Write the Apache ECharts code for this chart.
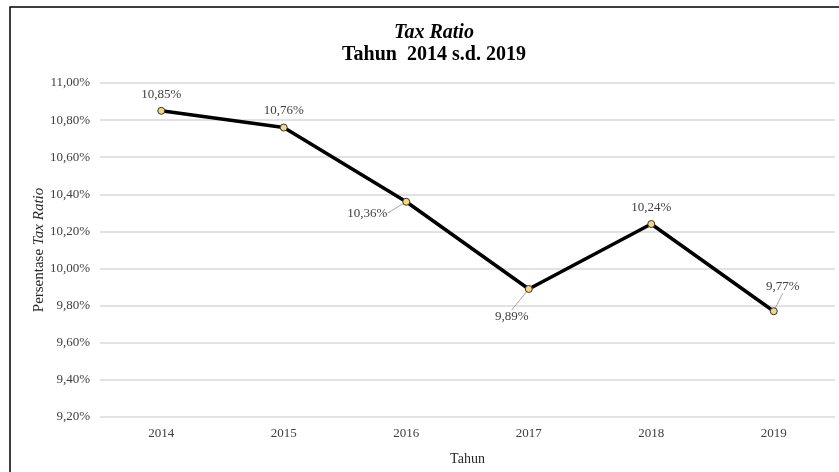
<!DOCTYPE html>
<html>
<head>
<meta charset="utf-8">
<script src="https://cdn.jsdelivr.net/npm/echarts@6/dist/echarts.min.js"></script>
<style>
  html, body { margin: 0; padding: 0; background: #fff; }
  #chart { width: 839px; height: 472px; }
</style>
</head>
<body>
<div id="chart"></div>
<script>
// Tax ratio per year, in percent
const years = ['2014', '2015', '2016', '2017', '2018', '2019'];
const taxRatio = [10.85, 10.76, 10.36, 9.89, 10.24, 9.77];

// Value axis range
const yMin = 9.2;
const yMax = 11.0;
const yStep = 0.2;

const serif = '"Liberation Serif", "Times New Roman", serif';
const fmtPct = v => v.toFixed(2).replace('.', ',') + '%';

// Label nudges (dx, dy) so labels sit clear of the line, with leader lines
const labelShift = {
  2: { dx: -39, dy: 28 },
  3: { dx: -17, dy: 44 },
  5: { dx: 9, dy: -8 }
};

const seriesData = taxRatio.map((v, i) => ({
  value: v,
  labelLine: { show: !!labelShift[i] }
}));

const chart = echarts.init(document.getElementById('chart'), null, { renderer: 'canvas' });

chart.setOption({
  backgroundColor: '#ffffff',
  animation: false,
  graphic: [{
    type: 'rect',
    shape: { x: 10, y: 7, width: 840, height: 480 },
    style: { fill: 'none', stroke: '#000', lineWidth: 1.5 },
    silent: true,
    z: -1
  }],
  title: {
    left: 429,
    top: 17,
    textAlign: 'center',
    text: '{a|Tax Ratio}\n{b|Tahun  2014 s.d. 2019}',
    textStyle: {
      rich: {
        a: { fontFamily: serif, fontSize: 20, fontWeight: 'bold', fontStyle: 'italic', color: '#000', lineHeight: 22, align: 'center' },
        b: { fontFamily: serif, fontSize: 20, fontWeight: 'bold', color: '#000', lineHeight: 22, align: 'center' }
      }
    }
  },
  grid: { left: 100, right: 4, top: 83, bottom: 55 },
  xAxis: {
    type: 'category',
    data: years,
    boundaryGap: true,
    name: 'Tahun',
    nameLocation: 'middle',
    nameGap: 35,
    nameTextStyle: { fontFamily: serif, fontSize: 14, color: '#262626' },
    axisLine: { show: false },
    axisTick: { show: false },
    axisLabel: { fontFamily: serif, fontSize: 13, color: '#404040', margin: 10 }
  },
  yAxis: {
    type: 'value',
    min: yMin,
    max: yMax,
    interval: yStep,
    name: '{n|Persentase }{i|Tax Ratio}',
    nameLocation: 'middle',
    nameGap: 53,
    nameRotate: 90,
    nameMoveOverlap: false,
    nameTextStyle: {
      rich: {
        n: { fontFamily: serif, fontSize: 15, color: '#262626' },
        i: { fontFamily: serif, fontSize: 15, fontStyle: 'italic', color: '#262626' }
      }
    },
    axisLine: { show: false },
    axisTick: { show: false },
    axisLabel: {
      fontFamily: serif, fontSize: 13, color: '#404040', margin: 10,
      formatter: v => fmtPct(v)
    },
    splitLine: { lineStyle: { color: '#d9d9d9', width: 1.5 } }
  },
  series: [{
    type: 'line',
    data: seriesData,
    symbol: 'circle',
    symbolSize: 7,
    lineStyle: { color: '#000', width: 3.5 },
    itemStyle: { color: '#f5d77e', borderColor: '#333', borderWidth: 1 },
    label: {
      show: true,
      position: 'top',
      distance: 6,
      fontFamily: serif,
      fontSize: 13,
      color: '#404040',
      formatter: p => fmtPct(p.value)
    },
    labelLine: {
      show: true,
      lineStyle: { color: '#a6a6a6', width: 1 }
    },
    labelLayout: params => {
      const s = labelShift[params.dataIndex];
      return s ? { dx: s.dx, dy: s.dy } : {};
    },
    z: 3
  }]
});
</script>
</body>
</html>
